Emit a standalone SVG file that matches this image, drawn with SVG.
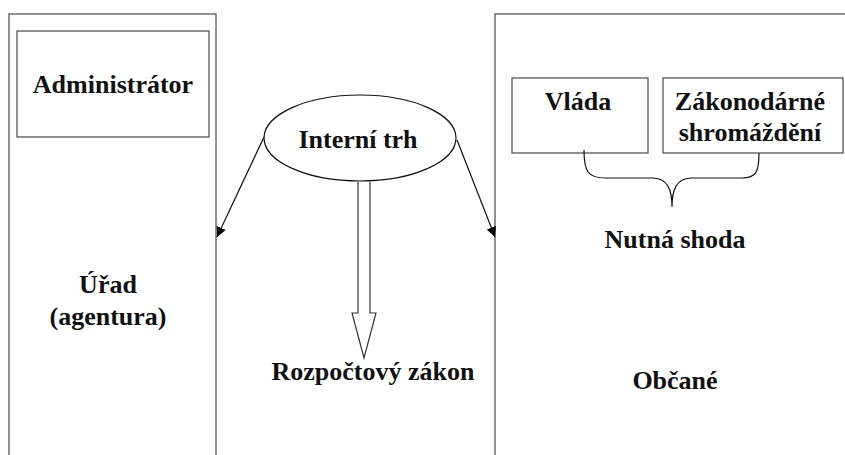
<svg xmlns="http://www.w3.org/2000/svg" width="845" height="455" viewBox="0 0 845 455">
<style>
.box{fill:none;stroke:#555;stroke-width:1.3}
text{font-family:'Liberation Serif','Tinos','Times New Roman','DejaVu Serif',serif;font-weight:bold;font-size:26px;fill:#111;text-anchor:middle}
.ln{fill:none;stroke:#111;stroke-width:1.2}
</style>
<defs>
<marker id="ah" viewBox="0 0 10 10" refX="10" refY="5" markerWidth="10" markerHeight="10" markerUnits="userSpaceOnUse" orient="auto">
<path d="M0,0 L10,5 L0,10 Z" fill="#000"/>
</marker>
</defs>
<rect width="845" height="455" fill="#fff"/>
<g id="urad">
<rect class="box" x="9" y="14" width="207" height="460"/>
<text x="108" y="293" font-family="Liberation Serif">Úřad</text>
<text x="108" y="325" font-family="Liberation Serif">(agentura)</text>
</g>
<g id="administrator">
<rect class="box" x="17" y="31" width="192" height="106"/>
<text x="113" y="93" font-family="Liberation Serif">Administrátor</text>
</g>
<g id="obcane">
<rect class="box" x="495" y="14" width="400" height="460"/>
<text x="675" y="389" font-family="Liberation Serif">Občané</text>
</g>
<g id="vlada">
<rect class="box" x="512" y="78" width="136" height="75"/>
<text x="578" y="110" font-family="Liberation Serif">Vláda</text>
</g>
<g id="zakonodarne">
<rect class="box" x="663" y="78" width="180" height="75"/>
<text x="750" y="110" font-family="Liberation Serif">Zákonodárné</text>
<text x="750" y="141" font-family="Liberation Serif">shromáždění</text>
</g>
<g id="interni-trh">
<ellipse cx="360" cy="138" rx="96" ry="43" fill="#fff" stroke="#111" stroke-width="1.2"/>
<text x="358" y="148" font-family="Liberation Serif">Interní trh</text>
</g>
<g id="nutna-shoda">
<text x="675" y="248" font-family="Liberation Serif">Nutná shoda</text>
</g>
<g id="rozpoctovy-zakon">
<text x="373" y="380" font-family="Liberation Serif">Rozpočtový zákon</text>
</g>
<g id="connectors">
<path class="ln" d="M264,137 L217,237" marker-end="url(#ah)"/>
<path class="ln" d="M457,140 L495,237" marker-end="url(#ah)"/>
<path d="M358,182 V313 H352 L364,358 L376,313 H370 V182" fill="#fff" stroke="#333" stroke-width="1.2"/>
<path class="ln" d="M584,150 C584,172 588,178 606,178 L652,178 C668,178 672,190 672,207 C672,190 676,178 692,178 L742,178 C756,178 759,172 759,153"/>
</g>
</svg>
